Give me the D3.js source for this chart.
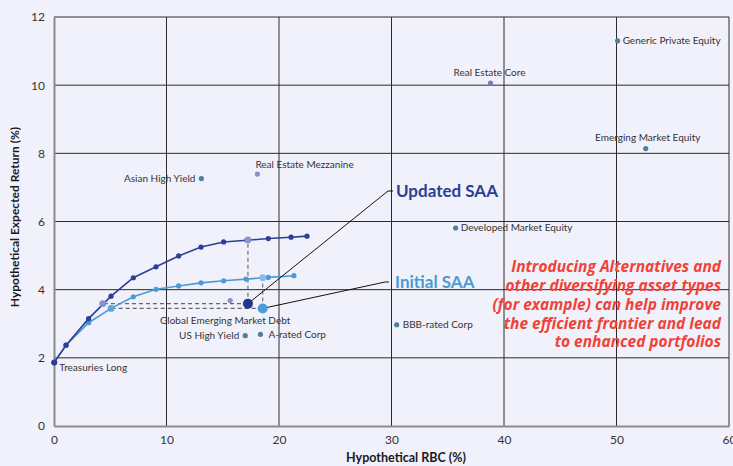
<!DOCTYPE html>
<html><head><meta charset="utf-8">
<script src="https://cdn.jsdelivr.net/npm/d3@7"></script>
<style>
html,body{margin:0;padding:0;background:#f1f1fc;}
svg{display:block;font-family:Lato,"Open Sans",sans-serif;}
</style></head>
<body><svg id="c" width="733" height="466"></svg>
<script>
// ---- data ----
const xTicks = [0, 10, 20, 30, 40, 50, 60];
const yTicks = [0, 2, 4, 6, 8, 10, 12];

const updatedRBC = [0, 1.07, 3.08, 5.07, 7.05, 9.07, 11.08, 13.07, 15.08, 17.15, 19.05, 21.07, 22.49];
const updatedRet = [1.86, 2.37, 3.15, 3.81, 4.35, 4.67, 4.99, 5.25, 5.40, 5.45, 5.50, 5.54, 5.57];

const initialRBC = [0, 1.07, 3.08, 5.07, 7.05, 9.07, 11.08, 13.07, 15.08, 17.07, 19.05, 21.33];
const initialRet = [1.86, 2.37, 3.03, 3.45, 3.79, 4.01, 4.11, 4.20, 4.26, 4.31, 4.36, 4.41];

// SAA portfolios and their efficient counterparts (same RBC, same return)
const updatedSAA = [17.24, 3.59];
const updatedSameRBC = [17.24, 5.46];
const updatedSameRet = [4.33, 3.59];
const initialSAA = [18.55, 3.45];
const initialSameRBC = [18.55, 4.35];
const initialSameRet = [5.07, 3.45];

const assetNames = ["Treasuries Long", "Asian High Yield", "Real Estate Mezzanine", "Real Estate Core",
  "Generic Private Equity", "Emerging Market Equity", "Developed Market Equity", "BBB-rated Corp",
  "US High Yield", "A-rated Corp", "Global Emerging Market Debt"];
const assetRBC = [0.03, 13.1, 18.08, 38.8, 50.1, 52.6, 35.7, 30.46, 17.0, 18.35, 15.66];
const assetRet = [1.86, 7.26, 7.39, 10.06, 11.30, 8.14, 5.81, 2.97, 2.65, 2.69, 3.68];

const xTitle = "Hypothetical RBC (%)";
const yTitle = "Hypothetical Expected Return (%)";
const noteLines = ["Introducing Alternatives and", "other diversifying asset types",
  "(for example) can help improve", "the efficient frontier and lead", "to enhanced portfolios"];

// ---- drawing ----
const svg = d3.select("#c");
const x = d3.scaleLinear().domain([0, 60]).range([54, 729]);
const y = d3.scaleLinear().domain([0, 12]).range([426, 17]);

const dark = "#2b3f94", light = "#4b9bd5", assetCol = "#4f7f9c", lilac = "#8a90cc", paleBlue = "#86bde8";

// grid
const g = svg.append("g");
g.selectAll("line.vx").data(xTicks.filter(d => d > 0)).join("line")
  .attr("x1", d => x(d)).attr("x2", d => x(d)).attr("y1", y(0)).attr("y2", y(12))
  .attr("stroke", "#2a2a2a").attr("stroke-width", 1);
g.selectAll("line.hy").data(yTicks.filter(d => d > 0)).join("line")
  .attr("y1", d => y(d)).attr("y2", d => y(d)).attr("x1", x(0)).attr("x2", x(60))
  .attr("stroke", "#2a2a2a").attr("stroke-width", 1);

// axes
const xAxis = svg.append("g").attr("transform", `translate(0,${y(0)})`)
  .call(d3.axisBottom(x).tickValues(xTicks).tickSize(0).tickPadding(9));
const yAxis = svg.append("g").attr("transform", `translate(${x(0)},0)`)
  .call(d3.axisLeft(y).tickValues(yTicks).tickSize(0).tickPadding(9));
[xAxis, yAxis].forEach(a => {
  a.select(".domain").attr("stroke", "#8a8a8a").attr("stroke-width", 2);
  a.selectAll("text").attr("font-size", 12).attr("fill", "#333").attr("font-family", "Lato, sans-serif");
});

svg.append("text").attr("x", 406).attr("y", 458).attr("dy", "0.35em").attr("text-anchor", "middle")
  .attr("font-size", 12.5).attr("font-weight", 700).attr("fill", "#1a1a1a").text(xTitle);
svg.append("text").attr("transform", `translate(15,217) rotate(-90)`).attr("dy", "0.35em")
  .attr("text-anchor", "middle").attr("font-size", 12).attr("font-weight", 700).attr("fill", "#1a1a1a").text(yTitle);

// dashed guides
const dash = svg.append("g").attr("stroke", "#666").attr("stroke-width", 1.1).attr("stroke-dasharray", "4,3").attr("fill", "none");
[[updatedSAA, updatedSameRBC], [updatedSAA, updatedSameRet], [initialSAA, initialSameRBC], [initialSAA, initialSameRet]]
  .forEach(([a, b]) => dash.append("line").attr("x1", x(a[0])).attr("y1", y(a[1])).attr("x2", x(b[0])).attr("y2", y(b[1])));

// frontiers
const line = d3.line().x(d => x(d[0])).y(d => y(d[1]));
const initPts = initialRBC.map((v, i) => [v, initialRet[i]]);
const updPts = updatedRBC.map((v, i) => [v, updatedRet[i]]);
svg.append("path").attr("d", line(initPts)).attr("fill", "none").attr("stroke", light).attr("stroke-width", 1.6);
svg.selectAll("circle.ip").data(initPts).join("circle").attr("cx", d => x(d[0])).attr("cy", d => y(d[1])).attr("r", 2.6).attr("fill", light);
svg.append("path").attr("d", line(updPts)).attr("fill", "none").attr("stroke", dark).attr("stroke-width", 1.6);
svg.selectAll("circle.up").data(updPts).join("circle").attr("cx", d => x(d[0])).attr("cy", d => y(d[1])).attr("r", 2.6).attr("fill", dark);

// highlighted efficient points
[[updatedSameRBC, "#8d93c6"], [updatedSameRet, lilac], [initialSameRBC, paleBlue], [initialSameRet, "#5aa5dc"]]
  .forEach(([p, c]) => svg.append("circle").attr("cx", x(p[0])).attr("cy", y(p[1])).attr("r", 3.4).attr("fill", c));

// assets
const labelPos = {
  "Treasuries Long": [5, 5, "start"],
  "Asian High Yield": [-6, 0, "end"],
  "Real Estate Mezzanine": [-2, -10, "start"],
  "Real Estate Core": [-1, -11, "middle"],
  "Generic Private Equity": [5, 0, "start"],
  "Emerging Market Equity": [2, -11, "middle"],
  "Developed Market Equity": [5, 0, "start"],
  "BBB-rated Corp": [6, 0, "start"],
  "US High Yield": [-6, 0, "end"],
  "A-rated Corp": [8, 0, "start"],
  "Global Emerging Market Debt": [-5, 20, "middle"]
};
const purpleAssets = ["Real Estate Mezzanine", "Real Estate Core", "Global Emerging Market Debt"];
assetNames.forEach((n, i) => {
  if (n !== "Treasuries Long") {
    svg.append("circle").attr("cx", x(assetRBC[i])).attr("cy", y(assetRet[i])).attr("r", 2.6)
      .attr("fill", purpleAssets.includes(n) ? (n === "Real Estate Core" ? "#7380c4" : lilac) : assetCol);
  }
  const p = labelPos[n];
  svg.append("text").attr("x", x(assetRBC[i]) + p[0]).attr("y", y(assetRet[i]) + p[1])
    .attr("dy", "0.35em").attr("text-anchor", p[2]).attr("font-size", 10).attr("fill", "#333").text(n);
});
// Treasuries long dot (on frontier start)
svg.append("circle").attr("cx", x(assetRBC[0])).attr("cy", y(assetRet[0])).attr("r", 3).attr("fill", dark);

// SAA points and callouts
svg.append("polyline").attr("points", [[x(updatedSAA[0]), y(updatedSAA[1])], [388, 191], [393, 191]].join(" "))
  .attr("fill", "none").attr("stroke", "#111").attr("stroke-width", 1);
svg.append("polyline").attr("points", [[x(initialSAA[0]), y(initialSAA[1])], [385, 282], [389, 282]].join(" "))
  .attr("fill", "none").attr("stroke", "#111").attr("stroke-width", 1);
svg.append("circle").attr("cx", x(updatedSAA[0])).attr("cy", y(updatedSAA[1])).attr("r", 5).attr("fill", "#22368c");
svg.append("circle").attr("cx", x(initialSAA[0])).attr("cy", y(initialSAA[1])).attr("r", 5).attr("fill", light);

svg.append("text").attr("x", 396).attr("y", 191).attr("dy", "0.35em").attr("font-size", 17).attr("font-weight", 700)
  .attr("fill", dark).text("Updated SAA");
svg.append("text").attr("x", 395).attr("y", 282).attr("dy", "0.35em").attr("font-size", 17).attr("font-weight", 700)
  .attr("fill", light).text("Initial SAA");

svg.append("g").selectAll("text").data(noteLines).join("text")
  .attr("x", 721).attr("y", (d, i) => 267 + i * 18.7).attr("dy", "0.35em").attr("text-anchor", "end")
  .attr("font-family", "'Open Sans', sans-serif")
  .attr("font-size", 15.5).attr("font-weight", 700).attr("font-style", "italic").attr("fill", "#ee4336").text(d => d);
</script></body></html>
